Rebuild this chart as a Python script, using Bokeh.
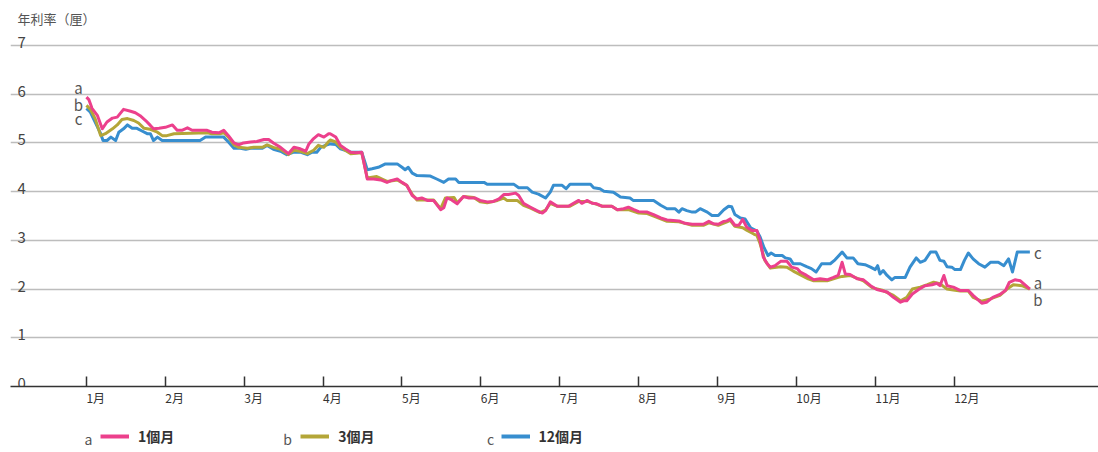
from bokeh.plotting import figure
from bokeh.layouts import column
from bokeh.models import FixedTicker, Legend, LegendItem, Label, ColumnDataSource, Range1d
from bokeh.core.properties import value
from bokeh.embed import file_html
from bokeh.resources import INLINE

FONT = "Noto Sans CJK TC"

months = ["1月", "2月", "3月", "4月", "5月", "6月", "7月", "8月", "9月", "10月", "11月", "12月"]
month_pos = list(range(12))
y_ticks = [0, 1, 2, 3, 4, 5, 6, 7]
y_title = "年利率（厘）"

series_names = ["1個月", "3個月", "12個月"]
series_letters = ["a", "b", "c"]
series_colors = ["#EC408C", "#B4A638", "#378ECF"]

# a: 1個月 (x in months from 1月 start)
a_x = [0.00, 0.03, 0.07, 0.14, 0.20, 0.26, 0.33, 0.39, 0.47, 0.56, 0.62, 0.68, 0.75, 0.81, 0.85, 0.92,
       1.00, 1.09, 1.15, 1.21, 1.28, 1.34, 1.53, 1.59, 1.68, 1.74, 1.80, 1.87, 1.93, 1.99,
       2.08, 2.16, 2.25, 2.31, 2.37, 2.46, 2.56, 2.63, 2.71, 2.78, 2.82, 2.88, 2.94,
       3.01, 3.07, 3.09, 3.16, 3.22, 3.28, 3.35, 3.41, 3.49, 3.56, 3.64, 3.73, 3.81, 3.87, 3.94,
       4.00, 4.06, 4.13, 4.19, 4.25, 4.32, 4.40, 4.49, 4.53, 4.57, 4.63, 4.70, 4.78, 4.85, 4.93, 4.99,
       5.08, 5.16, 5.23, 5.29, 5.35, 5.44, 5.48, 5.54, 5.63, 5.71, 5.78, 5.82, 5.88, 5.97,
       6.11, 6.24, 6.28, 6.35, 6.41, 6.47, 6.54, 6.66, 6.73, 6.81, 6.87, 6.94,
       7.00, 7.11, 7.19, 7.28, 7.36, 7.44, 7.51, 7.59, 7.68, 7.82, 7.89, 7.95,
       8.01, 8.08, 8.12, 8.16, 8.22, 8.27, 8.32, 8.37, 8.44, 8.50, 8.54, 8.58, 8.63, 8.67, 8.73, 8.80, 8.88, 8.94,
       9.01, 9.05, 9.13, 9.22, 9.30, 9.39, 9.47, 9.53, 9.58, 9.62, 9.68, 9.77, 9.85, 9.94,
       10.02, 10.15, 10.23, 10.32, 10.36, 10.40, 10.47, 10.55, 10.63, 10.72, 10.78, 10.82, 10.87, 10.91, 10.99,
       11.08, 11.18, 11.24, 11.35, 11.41, 11.49, 11.58, 11.65, 11.70, 11.77, 11.84, 11.96]
a_y = [5.94, 5.89, 5.71, 5.56, 5.29, 5.43, 5.51, 5.53, 5.69, 5.65, 5.62, 5.56, 5.46, 5.36, 5.29, 5.30,
       5.32, 5.37, 5.26, 5.26, 5.31, 5.26, 5.26, 5.22, 5.21, 5.26, 5.15, 5.00, 4.96, 5.00,
       5.02, 5.03, 5.07, 5.07, 5.00, 4.91, 4.78, 4.91, 4.88, 4.83, 4.98, 5.09, 5.17,
       5.12, 5.19, 5.19, 5.12, 4.95, 4.88, 4.81, 4.80, 4.81, 4.26, 4.26, 4.24, 4.19, 4.23, 4.26,
       4.19, 4.13, 3.92, 3.85, 3.87, 3.82, 3.82, 3.63, 3.67, 3.87, 3.83, 3.75, 3.90, 3.87, 3.87, 3.82,
       3.79, 3.80, 3.85, 3.94, 3.94, 3.97, 3.92, 3.76, 3.68, 3.61, 3.56, 3.61, 3.79, 3.70,
       3.70, 3.82, 3.76, 3.82, 3.76, 3.75, 3.70, 3.70, 3.63, 3.65, 3.68, 3.63,
       3.59, 3.58, 3.53, 3.46, 3.42, 3.41, 3.40, 3.35, 3.33, 3.33, 3.39, 3.34,
       3.33, 3.39, 3.40, 3.44, 3.31, 3.31, 3.43, 3.27, 3.20, 3.20, 3.00, 2.66, 2.52, 2.45, 2.48, 2.57, 2.57, 2.45,
       2.42, 2.35, 2.28, 2.19, 2.21, 2.19, 2.24, 2.28, 2.55, 2.31, 2.30, 2.21, 2.19, 2.07,
       1.99, 1.94, 1.83, 1.73, 1.76, 1.76, 1.90, 1.99, 2.07, 2.09, 2.12, 2.07, 2.28, 2.07, 2.04,
       1.97, 1.97, 1.87, 1.71, 1.73, 1.83, 1.89, 1.97, 2.14, 2.19, 2.17, 2.00]

# b: 3個月
b_x = [0.00, 0.05, 0.11, 0.18, 0.24, 0.33, 0.39, 0.45, 0.52, 0.60, 0.66, 0.73, 0.81, 0.90, 0.96,
       1.02, 1.11, 1.53, 1.59, 1.70, 1.74, 1.80, 1.87, 1.93,
       2.04, 2.12, 2.23, 2.29, 2.37, 2.46, 2.56, 2.63, 2.71, 2.80, 2.88, 2.94,
       3.01, 3.07, 3.09, 3.16, 3.22, 3.35, 3.49, 3.56, 3.68, 3.81, 3.94,
       4.06, 4.13, 4.19, 4.40, 4.49, 4.55, 4.66, 4.70, 4.78, 4.91, 4.99,
       5.08, 5.21, 5.29, 5.33, 5.46, 5.54, 5.63, 5.75, 5.82, 5.88, 5.97,
       6.13, 6.24, 6.35, 6.47, 6.54, 6.66, 6.73, 6.87,
       7.00, 7.11, 7.28, 7.36, 7.51, 7.68, 7.82, 7.89,
       8.01, 8.12, 8.16, 8.22, 8.32, 8.37, 8.46, 8.50, 8.54, 8.60, 8.67, 8.80, 8.88, 8.96,
       9.15, 9.22, 9.39, 9.53, 9.58, 9.68, 9.85, 9.96,
       10.10, 10.23, 10.32, 10.40, 10.47, 10.57, 10.66, 10.74, 10.82, 10.91, 10.99,
       11.08, 11.18, 11.24, 11.35, 11.46, 11.58, 11.67, 11.75, 11.86, 11.96]
b_y = [5.77, 5.69, 5.50, 5.15, 5.19, 5.29, 5.37, 5.48, 5.50, 5.46, 5.41, 5.30, 5.28, 5.22, 5.15,
       5.15, 5.19, 5.21, 5.19, 5.19, 5.21, 5.12, 4.96, 4.91,
       4.89, 4.91, 4.91, 4.96, 4.91, 4.87, 4.76, 4.85, 4.83, 4.78, 4.85, 4.95,
       4.91, 5.03, 5.06, 5.02, 4.91, 4.78, 4.80, 4.28, 4.31, 4.21, 4.24,
       4.13, 3.94, 3.83, 3.83, 3.65, 3.87, 3.88, 3.77, 3.90, 3.88, 3.79,
       3.77, 3.82, 3.87, 3.82, 3.82, 3.72, 3.66, 3.57, 3.62, 3.76, 3.70,
       3.70, 3.80, 3.80, 3.74, 3.70, 3.70, 3.63, 3.63,
       3.56, 3.55, 3.44, 3.39, 3.38, 3.31, 3.31, 3.36,
       3.31, 3.38, 3.41, 3.29, 3.26, 3.21, 3.13, 3.10, 2.93, 2.59, 2.43, 2.46, 2.45, 2.37,
       2.21, 2.17, 2.17, 2.24, 2.26, 2.28, 2.17, 2.03,
       1.97, 1.87, 1.76, 1.83, 2.00, 2.04, 2.09, 2.14, 2.11, 2.00, 1.98,
       1.96, 1.96, 1.83, 1.75, 1.80, 1.87, 2.00, 2.09, 2.07, 2.00]

# c: 12個月
c_x = [0.00, 0.05, 0.11, 0.18, 0.21, 0.26, 0.31, 0.37, 0.41, 0.47, 0.52, 0.58, 0.64, 0.71, 0.77, 0.81, 0.85, 0.90, 0.96,
       1.44, 1.51, 1.74, 1.80, 1.87, 1.95,
       2.02, 2.08, 2.23, 2.29, 2.37, 2.46, 2.54, 2.63, 2.71, 2.80, 2.86, 2.92, 2.97,
       3.03, 3.09, 3.16, 3.22, 3.35, 3.49, 3.56, 3.62, 3.70, 3.79, 3.94,
       4.00, 4.04, 4.08, 4.13, 4.19, 4.36, 4.44, 4.53, 4.59, 4.68, 4.72,
       5.04, 5.08, 5.42, 5.48, 5.59, 5.65, 5.73, 5.82, 5.88, 5.92,
       6.03, 6.08, 6.13, 6.39, 6.43, 6.51, 6.56, 6.68, 6.77, 6.89, 6.93,
       7.19, 7.28, 7.36, 7.46, 7.51, 7.55, 7.61, 7.68, 7.72, 7.78, 7.87, 7.93,
       8.01, 8.08, 8.14, 8.18, 8.22, 8.29, 8.35, 8.42, 8.50, 8.54, 8.59, 8.64, 8.68, 8.73, 8.82, 8.86, 8.92, 8.96,
       9.05, 9.13, 9.19, 9.25, 9.32, 9.43, 9.49, 9.58, 9.64, 9.72, 9.78, 9.87, 9.94,
       10.00, 10.03, 10.06, 10.10, 10.15, 10.21, 10.25, 10.38, 10.44, 10.52, 10.57, 10.63, 10.70, 10.77, 10.82, 10.87, 10.91, 10.97,
       11.01, 11.08, 11.13, 11.18, 11.24, 11.31, 11.39, 11.46, 11.56, 11.63, 11.69, 11.74, 11.80, 11.96]
c_y = [5.71, 5.63, 5.43, 5.19, 5.05, 5.05, 5.12, 5.05, 5.22, 5.29, 5.37, 5.30, 5.30, 5.24, 5.19, 5.19, 5.05, 5.12, 5.05,
       5.05, 5.12, 5.12, 5.02, 4.89, 4.89,
       4.87, 4.89, 4.89, 4.95, 4.87, 4.83, 4.76, 4.81, 4.81, 4.76, 4.81, 4.81, 4.91,
       4.95, 4.98, 4.97, 4.88, 4.81, 4.81, 4.45, 4.47, 4.50, 4.57, 4.57,
       4.50, 4.45, 4.50, 4.38, 4.33, 4.32, 4.26, 4.19, 4.26, 4.26, 4.19,
       4.19, 4.15, 4.15, 4.08, 4.08, 3.99, 3.95, 3.87, 3.99, 4.13,
       4.13, 4.06, 4.15, 4.15, 4.08, 4.06, 4.01, 3.99, 3.89, 3.87, 3.82,
       3.82, 3.72, 3.65, 3.65, 3.58, 3.65, 3.61, 3.58, 3.58, 3.65, 3.58, 3.51,
       3.51, 3.63, 3.70, 3.69, 3.53, 3.46, 3.44, 3.26, 3.19, 3.07, 2.85, 2.69, 2.74, 2.69, 2.69, 2.64, 2.62, 2.52,
       2.52, 2.46, 2.42, 2.35, 2.52, 2.52, 2.60, 2.76, 2.64, 2.64, 2.52, 2.50, 2.45,
       2.40, 2.48, 2.31, 2.38, 2.28, 2.19, 2.24, 2.24, 2.45, 2.64, 2.55, 2.59, 2.76, 2.76, 2.59, 2.57, 2.46, 2.45,
       2.40, 2.40, 2.59, 2.74, 2.62, 2.52, 2.45, 2.55, 2.55, 2.48, 2.62, 2.35, 2.76, 2.76]

series_x = [a_x, b_x, c_x]
series_y = [a_y, b_y, c_y]

# label offsets (pixels) for the letters at line starts and ends
start_offsets = [(-8, -10), (-8, -1), (-8, 10)]
end_offsets = [(8, -7), (8, 10), (8, 0)]

p = figure(width=1098, height=418, output_backend="svg", toolbar_location=None,
           x_range=Range1d(-0.963, 12.83), y_range=Range1d(0, 7.76),
           min_border_left=10, min_border_right=0, min_border_top=8, min_border_bottom=32)
p.outline_line_color = None
p.yaxis.visible = False
p.xgrid.visible = False
p.ygrid.ticker = FixedTicker(ticks=y_ticks)
p.ygrid.grid_line_color = "#BDBDBD"
p.ygrid.grid_line_width = 1.5

ax = p.xaxis[0]
ax.ticker = FixedTicker(ticks=month_pos)
ax.major_label_overrides = {i: m for i, m in zip(month_pos, months)}
ax.axis_line_color = "#333333"
ax.axis_line_width = 1.5
ax.major_tick_in = 10
ax.major_tick_out = 0
ax.major_tick_line_color = "#333333"
ax.major_tick_line_width = 1.5
ax.minor_tick_line_color = None
# a tiny negative orientation makes Bokeh left-align the labels at their ticks
ax.major_label_orientation = -0.0001
ax.major_label_standoff = 11
ax.major_label_text_font = FONT
ax.major_label_text_font_size = "12px"
ax.major_label_text_color = "#333333"

renderers = {}
for xs, ys, col, letter in list(zip(series_x, series_y, series_colors, series_letters))[::-1]:
    renderers[letter] = p.line(xs, ys, line_color=col, line_width=3, line_join="round")

# y tick labels above gridlines
ysrc = ColumnDataSource(dict(x=[p.x_range.start] * len(y_ticks), y=y_ticks, t=[str(v) for v in y_ticks]))
p.text(x="x", y="y", text="t", source=ysrc, x_offset=7, y_offset=-3,
       text_font=value(FONT), text_font_size="15px", text_color="#444444",
       text_align="left", text_baseline="alphabetic")

# y title
p.text(x=[p.x_range.start], y=[y_ticks[-1]], text=[y_title], x_offset=7, y_offset=-27,
       text_font=value(FONT), text_font_size="13px", text_color="#555555",
       text_align="left", text_baseline="middle")

# letters at start and end of lines
lx, ly, lt, lxo, lyo = [], [], [], [], []
for xs, ys, letter, so, eo in zip(series_x, series_y, series_letters, start_offsets, end_offsets):
    lx += [xs[0], xs[-1]]
    ly += [ys[0], ys[-1]]
    lt += [letter, letter]
    lxo += [so[0], eo[0]]
    lyo += [so[1], eo[1]]
lsrc = ColumnDataSource(dict(x=lx, y=ly, t=lt, xo=lxo, yo=lyo))
p.text(x="x", y="y", text="t", source=lsrc, x_offset="xo", y_offset="yo",
       text_font=value(FONT), text_font_size="15px", text_color="#555555",
       text_align="center", text_baseline="middle")

# legend strip below the chart
pl = figure(width=1098, height=34, output_backend="svg", toolbar_location=None,
            x_axis_type=None, y_axis_type=None,
            x_range=Range1d(0, 1098), y_range=Range1d(0, 34),
            min_border=0, min_border_left=0, min_border_right=0, min_border_top=0, min_border_bottom=0)
pl.grid.visible = False
pl.outline_line_color = None
# swatch renderers hold one off-range segment each, so only their legend glyphs show
leg_renderers = [pl.line([-20, -10], [-20, -10], line_color=col, line_width=4) for col in series_colors]
items = [LegendItem(label=n, renderers=[r]) for n, r in zip(series_names, leg_renderers)]
legend = Legend(items=items, location=(90, 6), orientation="horizontal",
                padding=0, margin=0, spacing=126, glyph_width=29, glyph_height=16,
                label_standoff=9, label_text_font=FONT, label_text_font_size="14px",
                label_text_color="#333333", label_text_font_style="bold",
                background_fill_alpha=0, border_line_color=None)
pl.add_layout(legend)
for letter, sx in zip(series_letters, [78, 277, 480]):
    pl.add_layout(Label(x=sx, y=14, x_units="screen", y_units="screen", text=letter,
                        text_font=FONT, text_font_size="14px", text_color="#555555",
                        text_align="center", text_baseline="middle"))

layout = column(p, pl, spacing=0)
open("out.html", "w").write(file_html(layout, INLINE))
